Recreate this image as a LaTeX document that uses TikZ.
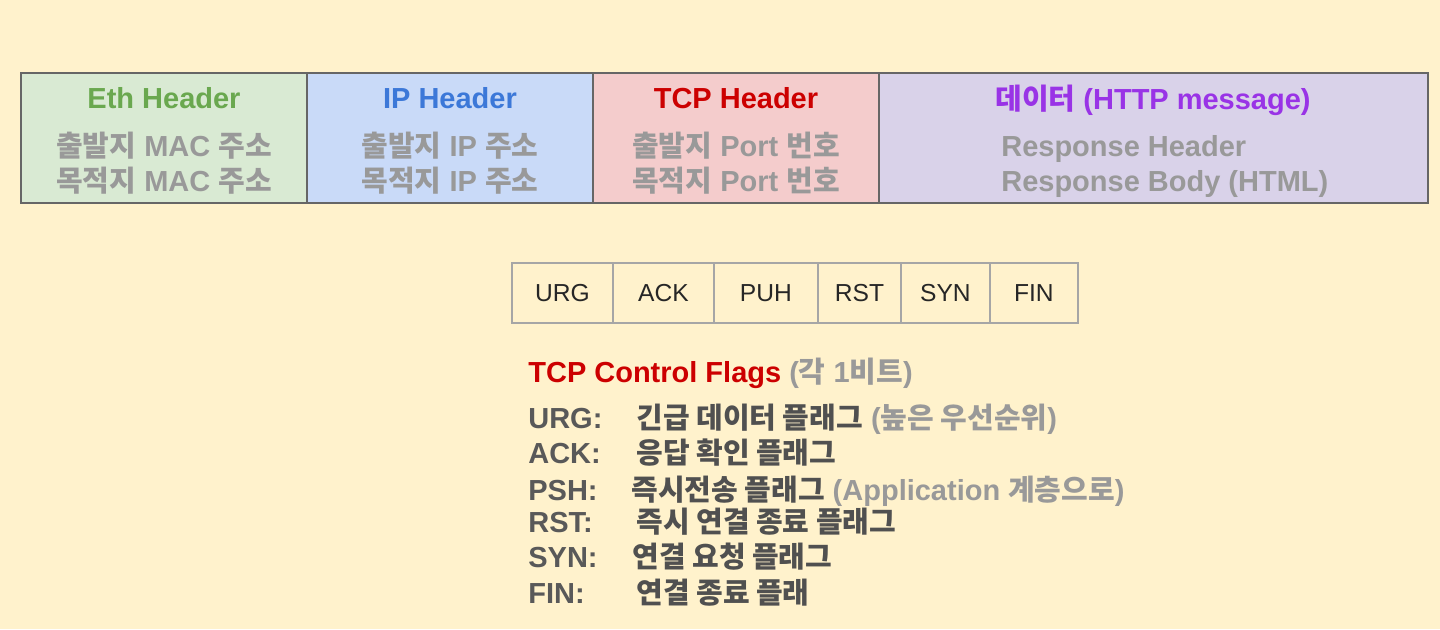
\documentclass[tikz,border=0pt]{standalone}
\usepackage{fontspec}
\setmainfont{Liberation Sans}
\setsansfont{Liberation Sans}
\newfontfamily\krfont[Scale=1.0]{Noto Sans CJK KR}
\newcommand{\krtxt}[1]{{\krfont #1}}
\usetikzlibrary{positioning}
\definecolor{bgcream}{HTML}{FFF2CC}
\definecolor{boxedge}{HTML}{666666}
\definecolor{flagedge}{HTML}{A6A6A6}
\definecolor{ethfill}{HTML}{D9EAD3}
\definecolor{ethtext}{HTML}{6AA84F}
\definecolor{ipfill}{HTML}{C9DAF8}
\definecolor{iptext}{HTML}{3C78D8}
\definecolor{tcpfill}{HTML}{F4CCCC}
\definecolor{tcptext}{HTML}{CC0000}
\definecolor{datafill}{HTML}{D9D2E9}
\definecolor{datatext}{HTML}{9933E6}
\definecolor{greytext}{HTML}{999999}
\definecolor{keygrey}{HTML}{595959}
\definecolor{descgrey}{HTML}{505050}
\tikzset{%
  hdrbox/.style   = {draw=boxedge, line width=1.1pt},%
  hdrtitle/.style = {anchor=base, inner sep=0pt,%
                     font=\fontsize{16.5}{18}\selectfont\bfseries},%
  hdrline/.style  = {hdrtitle, text=greytext},%
  flagcell/.style = {draw=flagedge, line width=0.8pt, inner sep=0pt,%
                     outer sep=0pt, minimum height=1.2cm, text=black!85,%
                     font=\fontsize{14}{16}\selectfont},%
  listkey/.style  = {anchor=base west, inner sep=0pt, text=keygrey,%
                     font=\fontsize{16.5}{18}\selectfont\bfseries},%
  listdesc/.style = {listkey, text=descgrey}%
}
\begin{document}
\begin{tikzpicture}[x=0.02cm, y=-0.02cm]
  \fill[bgcream] (0,0) rectangle (1440,629);
  % frame layout
  \draw[hdrbox, fill=ethfill]  (21,73)  rectangle (307,203);
  \draw[hdrbox, fill=ipfill]   (307,73) rectangle (593,203);
  \draw[hdrbox, fill=tcpfill]  (593,73) rectangle (879,203);
  \draw[hdrbox, fill=datafill] (879,73) rectangle (1428,203);
  \node[hdrtitle, text=ethtext] (ethtitle) at (164,108) {Eth Header};
  \node[hdrline] (ethsrc) at (164,156) {\krtxt{출발지} MAC \krtxt{주소}};
  \node[hdrline] (ethdst) at (164,191) {\krtxt{목적지} MAC \krtxt{주소}};
  \node[hdrtitle, text=iptext] (iptitle) at (450,108) {IP Header};
  \node[hdrline] (ipsrc) at (450,156) {\krtxt{출발지} IP \krtxt{주소}};
  \node[hdrline] (ipdst) at (450,191) {\krtxt{목적지} IP \krtxt{주소}};
  \node[hdrtitle, text=tcptext] (tcptitle) at (736,108) {TCP Header};
  \node[hdrline] (tcpsrc) at (736,156) {\krtxt{출발지} Port \krtxt{번호}};
  \node[hdrline] (tcpdst) at (736,191) {\krtxt{목적지} Port \krtxt{번호}};
  \node[hdrtitle, text=datatext] (datatitle) at (1153,109) {\krtxt{데이터} (HTTP message)};
  \node[hdrline, anchor=base west] (resphead) at (1001,156) {Response Header};
  \node[hdrline, anchor=base west] (respbody) at (1001,191) {Response Body (HTML)};
  % control flag cells
  \node[flagcell, minimum width=2.02cm, anchor=west] (urg) at (512,293) {URG};
  \node[flagcell, minimum width=2.02cm, right=0pt of urg] (ack) {ACK};
  \node[flagcell, minimum width=2.08cm, right=0pt of ack] (puh) {PUH};
  \node[flagcell, minimum width=1.66cm, right=0pt of puh] (rst) {RST};
  \node[flagcell, minimum width=1.78cm, right=0pt of rst] (syn) {SYN};
  \node[flagcell, minimum width=1.76cm, right=0pt of syn] (fin) {FIN};
  % legend
  \node[listkey, text=tcptext] (flagtitle) at (528,382)
    {TCP Control Flags {\color{greytext}(\krtxt{각} 1\krtxt{비트})}};
  \node[listkey] (urgkey) at (528,428) {URG:};
  \node[listdesc] (urgdesc) at (636,428)
    {\krtxt{긴급 데이터 플래그} {\color{greytext}(\krtxt{높은 우선순위})}};
  \node[listkey] (ackkey) at (528,463) {ACK:};
  \node[listdesc] (ackdesc) at (636,463) {\krtxt{응답 확인 플래그}};
  \node[listkey] (pshkey) at (528,500) {PSH:};
  \node[listdesc] (pshdesc) at (631,500)
    {\krtxt{즉시전송 플래그} {\color{greytext}(Application \krtxt{계층으로})}};
  \node[listkey] (rstkey) at (528,532) {RST:};
  \node[listdesc] (rstdesc) at (636,532) {\krtxt{즉시 연결 종료 플래그}};
  \node[listkey] (synkey) at (528,567) {SYN:};
  \node[listdesc] (syndesc) at (632,567) {\krtxt{연결 요청 플래그}};
  \node[listkey] (finkey) at (528,603) {FIN:};
  \node[listdesc] (findesc) at (636,603) {\krtxt{연결 종료 플래}};
\end{tikzpicture}
\end{document}
